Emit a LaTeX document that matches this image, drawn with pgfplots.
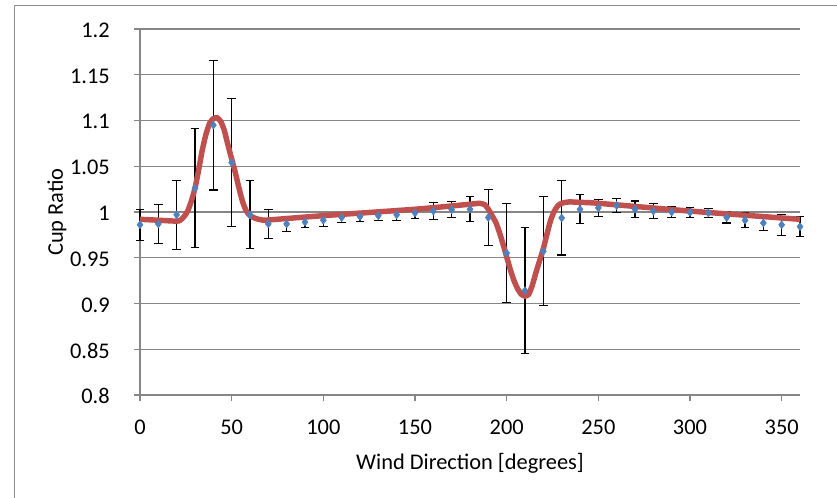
\documentclass[border=0pt]{standalone}
\usepackage{fontspec}
\setmainfont{Carlito}
\usepackage{pgfplots}
\usepackage{pgfplotstable}
\pgfplotsset{compat=1.18}

\definecolor{xlblue}{HTML}{4F81BD}
\definecolor{xlred}{HTML}{C0504D}
\definecolor{xlgrid}{RGB}{134,134,134}
\definecolor{xlframe}{RGB}{140,140,140}

\newcommand{\xlfont}{\fontsize{16.8}{20}\selectfont}

% measured cup ratio, with +/- error
\pgfplotstableread{
x   y      e
0   0.986  0.017
10  0.987  0.021
20  0.997  0.0375
30  1.026  0.065
40  1.095  0.071
50  1.054  0.070
60  0.997  0.037
70  0.987  0.016
80  0.987  0.008
90  0.989  0.006
100 0.991  0.0065
110 0.994  0.0055
120 0.995  0.005
130 0.996  0.005
140 0.997  0.006
150 0.999  0.006
160 1.001  0.009
170 1.0025 0.0085
180 1.003  0.0135
190 0.994  0.031
200 0.955  0.054
210 0.914  0.069
220 0.957  0.0595
230 0.9935 0.0405
240 1.003  0.016
250 1.0045 0.0095
260 1.007  0.0077
270 1.003  0.009
280 1.001  0.008
290 1.000  0.0065
300 0.9995 0.0055
310 0.999  0.005
320 0.994  0.006
330 0.991  0.008
340 0.988  0.008
350 0.986  0.0115
360 0.984  0.011
}\cupdata

% fitted curve
\pgfplotstableread{
x   y
0   0.992
10  0.991
20  0.990
22  0.991
24  0.995
26  1.001
28  1.012
30  1.026
32  1.046
34  1.068
36  1.085
38  1.097
40  1.102
42  1.103
44  1.099
46  1.089
48  1.073
50  1.058
52  1.043
54  1.026
56  1.011
58  1.001
60  0.996
63  0.993
66  0.9915
70  0.9913
100 0.996
150 1.003
180 1.0085
185 1.0095
188 1.008
190 1.003
192 0.996
194 0.989
196 0.978
198 0.965
200 0.951
202 0.937
204 0.925
206 0.916
208 0.910
210 0.908
212 0.910
214 0.920
216 0.934
218 0.947
220 0.960
222 0.976
224 0.991
226 1.001
228 1.007
230 1.0095
234 1.011
240 1.0105
250 1.0095
300 1.001
360 0.992
}\fitdata

\begin{document}
\begin{tikzpicture}
\path[use as bounding box] (0,0) rectangle (627.75pt,373.5pt);
\draw[xlframe, line width=1.1pt] (10.9pt,-10pt) -- (10.9pt,369.5pt) -- (650pt,369.5pt);
\begin{axis}[
    at={(105pt,77.25pt)}, anchor=south west,
    scale only axis,
    width=495pt, height=274.5pt,
    xmin=0, xmax=360,
    ymin=0.8, ymax=1.2,
    xtick={0,50,...,350},
    ytick={0.8,0.85,...,1.21},
    axis x line=bottom, axis y line=left,
    axis line style={-, xlgrid, line width=0.9pt},
    tick style={xlgrid, line width=0.9pt},
    tick align=outside,
    major tick length=4.5pt,
    ymajorgrids,
    grid style={xlgrid, line width=0.9pt},
    every tick label/.append style={font=\xlfont},
    /pgf/number format/assume math mode=true,
    /pgf/number format/fixed,
    yticklabel style={/pgf/number format/precision=2, anchor=east, inner sep=0pt, xshift=-18pt, yshift=-1pt},
    xticklabel style={anchor=center, inner sep=0pt, yshift=-19.5pt},
    xlabel={Wind Direction [degrees]},
    ylabel={Cup Ratio},
    every axis x label/.style={at={(axis description cs:0.5,-0.1858)}, anchor=center, font=\xlfont},
    every axis y label/.style={at={(axis description cs:-0.1258,0.5)}, anchor=center, rotate=90, font=\xlfont},
    clip=false,
]
\addplot[only marks, mark=diamond*, mark size=3pt,
         mark options={fill=xlblue, draw=xlblue},
         error bars/.cd, y dir=both, y explicit,
         error bar style={black, line width=0.8pt},
         error mark options={black, line width=0.8pt, rotate=90, mark size=3.2pt}]
    table[x=x, y=y, y error=e] {\cupdata};
\addplot[xlred, line width=4.1pt, smooth, tension=0.4] table[x=x, y=y] {\fitdata};
\end{axis}
\end{tikzpicture}
\end{document}
